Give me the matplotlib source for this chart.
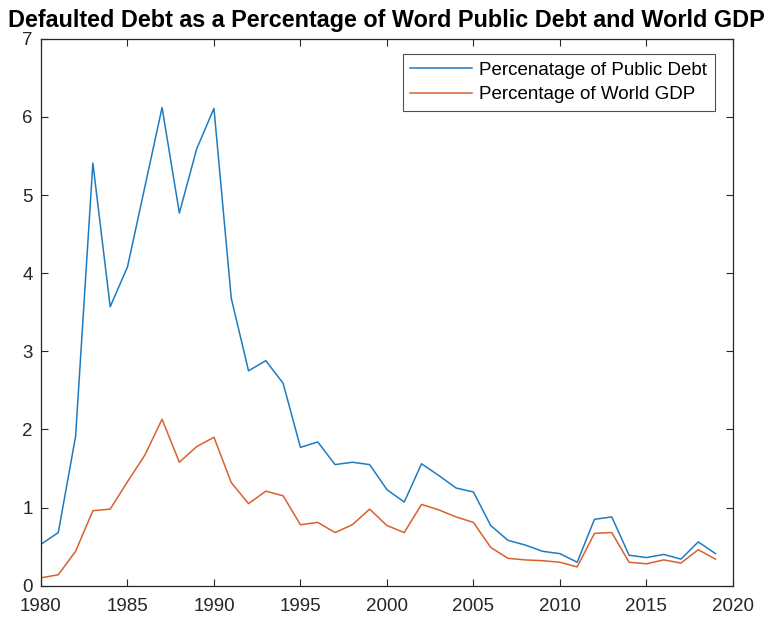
import matplotlib
matplotlib.use("Agg")
import matplotlib.pyplot as plt

years = list(range(1980, 2020))

public_debt_pct = [
    0.53, 0.68, 1.91, 5.41, 3.57, 4.08, 5.10, 6.12, 4.77, 5.59,
    6.11, 3.68, 2.75, 2.88, 2.59, 1.77, 1.84, 1.55, 1.58, 1.55,
    1.23, 1.07, 1.56, 1.41, 1.25, 1.20, 0.77, 0.58, 0.52, 0.44,
    0.41, 0.30, 0.85, 0.88, 0.39, 0.36, 0.40, 0.34, 0.56, 0.41,
]

world_gdp_pct = [
    0.10, 0.14, 0.44, 0.96, 0.98, 1.33, 1.67, 2.13, 1.58, 1.78,
    1.90, 1.32, 1.05, 1.21, 1.15, 0.78, 0.81, 0.68, 0.78, 0.98,
    0.77, 0.68, 1.04, 0.97, 0.88, 0.81, 0.49, 0.35, 0.33, 0.32,
    0.30, 0.24, 0.67, 0.68, 0.30, 0.28, 0.33, 0.29, 0.46, 0.34,
]

x_ticks = list(range(1980, 2021, 5))
y_ticks = list(range(0, 8))

title_text = "Defaulted Debt as a Percentage of Word Public Debt and World GDP"
legend_labels = ["Percenatage of Public Debt", "Percentage of World GDP"]

plt.rcParams["font.family"] = ["Liberation Sans", "DejaVu Sans"]
axis_color = "#262626"

fig = plt.figure(figsize=(7.69, 6.23), dpi=100)
ax = fig.add_axes([0.0533, 0.0599, 0.8997, 0.8778])

ax.plot(years, public_debt_pct, color="#1f7bbf", lw=1.1, label=legend_labels[0])
ax.plot(years, world_gdp_pct, color="#d9612e", lw=1.1, label=legend_labels[1])

ax.set_xlim(1980, 2020)
ax.set_ylim(0, 7)
ax.set_xticks(x_ticks)
ax.set_yticks(y_ticks)
ax.tick_params(direction="in", top=True, right=True, length=5, width=0.8,
               colors=axis_color, labelsize=13.5)
ax.tick_params(axis="x", pad=9)
ax.tick_params(axis="y", pad=6)
for s in ax.spines.values():
    s.set_color(axis_color)
    s.set_linewidth(0.9)

fig.text(0.503, 0.957, title_text, ha="center", va="baseline",
         fontsize=16.8, fontweight="bold", color="black")

leg = ax.legend(loc="upper right", bbox_to_anchor=(0.974, 0.972),
                borderaxespad=0, fontsize=13.5,
                frameon=True, fancybox=False, edgecolor=axis_color,
                handlelength=3.3, handletextpad=0.4, borderpad=0.4,
                labelspacing=0.4)
leg.get_frame().set_linewidth(0.8)

fig.savefig("out.png", dpi=100)
